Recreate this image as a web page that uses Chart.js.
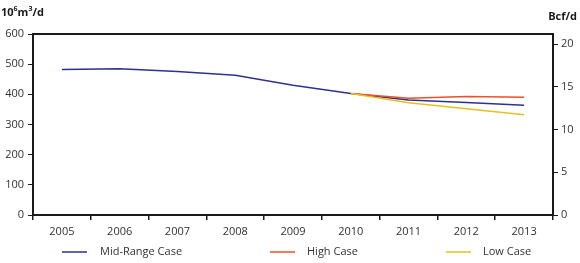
<!DOCTYPE html>
<html>
<head>
<meta charset="utf-8">
<script src="https://cdn.jsdelivr.net/npm/chart.js@4/dist/chart.umd.min.js"></script>
<style>
  html, body { margin: 0; padding: 0; background: #fff; }
  #wrap { width: 580px; height: 263px; position: relative; }
</style>
</head>
<body>
<div id="wrap"><canvas id="chart" width="580" height="263"></canvas></div>
<script>
// Data (10^6 m3/d)
const years = ['2005', '2006', '2007', '2008', '2009', '2010', '2011', '2012', '2013'];
const midRange = [482, 485, 476, 463, 430, 403, 381, 373, 364];
const highCase = [null, null, null, null, null, 403, 387, 393, 390];
const lowCase = [null, null, null, null, null, 403, 372, 352, 332];
const seriesNames = ['Mid-Range Case', 'High Case', 'Low Case'];
const seriesColors = ['#2e3192', '#ef5027', '#e5c01e'];

const BCF = 28.317; // 10^6 m3 per Bcf
const leftMax = 600;

const fontFamily = "'Open Sans', 'DejaVu Sans', sans-serif";
const tickFont = { family: fontFamily, size: 11 };

// Frame on top + axis titles + legend
const extras = {
    id: 'extras',
    afterDraw(chart) {
        const ctx = chart.ctx;
        const a = chart.chartArea;
        ctx.save();
        ctx.strokeStyle = '#1a1a1a';
        ctx.lineWidth = 2;
        ctx.beginPath();
        ctx.moveTo(a.left - 1, a.top);
        ctx.lineTo(a.right + 1, a.top);
        ctx.stroke();

        ctx.fillStyle = '#1a1a1a';
        ctx.textBaseline = 'alphabetic';
        ctx.font = 'bold 11px ' + fontFamily;
        ctx.textAlign = 'left';
        ctx.fillText('10', 1, 16);
        let w = ctx.measureText('10').width;
        ctx.font = 'bold 7px ' + fontFamily;
        ctx.fillText('6', 1 + w, 11);
        w += ctx.measureText('6').width;
        ctx.font = 'bold 11px ' + fontFamily;
        ctx.fillText('m', 1 + w, 16);
        w += ctx.measureText('m').width;
        ctx.font = 'bold 7px ' + fontFamily;
        ctx.fillText('3', 1 + w, 11);
        w += ctx.measureText('3').width;
        ctx.font = 'bold 11px ' + fontFamily;
        ctx.fillText('/d', 1 + w, 16);

        ctx.textAlign = 'right';
        ctx.fillText('Bcf/d', 577, 20);

        // legend
        const items = [[62, 100], [270, 307], [446, 483]];
        ctx.font = '11px ' + fontFamily;
        ctx.textAlign = 'left';
        ctx.textBaseline = 'middle';
        items.forEach((it, i) => {
            ctx.strokeStyle = seriesColors[i];
            ctx.lineWidth = 1.5;
            ctx.beginPath();
            ctx.moveTo(it[0], 252);
            ctx.lineTo(it[0] + 25, 252);
            ctx.stroke();
            ctx.fillStyle = '#333';
            ctx.fillText(seriesNames[i], it[1], 252);
        });
        ctx.restore();
    }
};

const ctx = document.getElementById('chart');
new Chart(ctx, {
    type: 'line',
    data: {
        labels: years,
        datasets: [
            { label: seriesNames[0], data: midRange, borderColor: seriesColors[0], yAxisID: 'y' },
            { label: seriesNames[1], data: highCase, borderColor: seriesColors[1], yAxisID: 'y' },
            { label: seriesNames[2], data: lowCase, borderColor: seriesColors[2], yAxisID: 'y' }
        ].reverse()
    },
    options: {
        responsive: false,
        animation: false,
        layout: { padding: { top: 34, left: 0, right: 0, bottom: 0 } },
        elements: {
            point: { radius: 0 },
            line: { borderWidth: 1.5, tension: 0 }
        },
        plugins: {
            legend: { display: false },
            tooltip: { enabled: false }
        },
        scales: {
            x: {
                offset: true,
                grid: { display: true, drawOnChartArea: false, offset: true, tickLength: 5, color: '#1a1a1a', lineWidth: 1.5 },
                border: { display: true, color: '#1a1a1a', width: 2 },
                ticks: { color: '#333', font: tickFont, padding: 5, maxRotation: 0 },
                afterFit(scale) { scale.height = 48; }
            },
            y: {
                position: 'left',
                min: 0,
                max: leftMax,
                grid: { display: true, drawOnChartArea: false, tickLength: 5, color: '#1a1a1a', lineWidth: 1 },
                border: { display: true, color: '#1a1a1a', width: 2 },
                ticks: { stepSize: 100, color: '#333', font: tickFont, padding: 4 },
                afterFit(scale) { scale.width = 33; }
            },
            y2: {
                position: 'right',
                min: 0,
                max: leftMax / BCF,
                grid: { display: true, drawOnChartArea: false, tickLength: 5, color: '#1a1a1a', lineWidth: 1 },
                border: { display: true, color: '#1a1a1a', width: 2 },
                ticks: { stepSize: 5, includeBounds: false, color: '#333', font: tickFont, padding: 3 },
                afterFit(scale) { scale.width = 27; }
            }
        }
    },
    plugins: [extras]
});
</script>
</body>
</html>
